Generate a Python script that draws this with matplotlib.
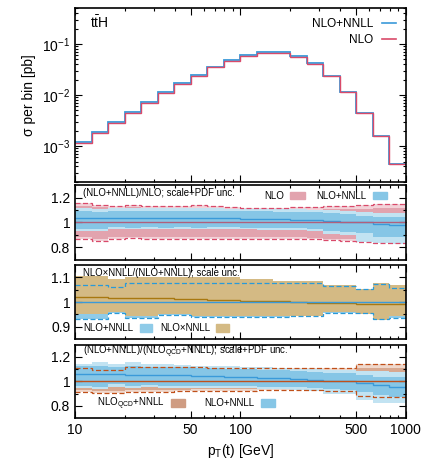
import numpy as np
import matplotlib
matplotlib.use('Agg')
import matplotlib.pyplot as plt
from matplotlib.patches import Patch
from matplotlib.lines import Line2D
from matplotlib.ticker import FixedLocator, FormatStrFormatter, NullFormatter, LogLocator

plt.rcParams['font.family'] = ['Liberation Sans', 'DejaVu Sans']
plt.rcParams['mathtext.fontset'] = 'custom'
plt.rcParams['mathtext.rm'] = 'Liberation Sans'
plt.rcParams['mathtext.it'] = 'Liberation Sans:italic'

# bin edges in pT(t) [GeV]
edges = [10, 12.6, 15.8, 20, 25.1, 31.6, 39.8, 50.1, 63.1, 79.4, 100,
         126, 158, 200, 251, 316, 398, 501, 631, 794, 1000]

# top panel: sigma per bin [pb]
xs_nnll = [1.2e-3, 1.9e-3, 3.0e-3, 4.6e-3, 7.2e-3, 1.16e-2, 1.72e-2, 2.5e-2, 3.6e-2, 4.8e-2,
           6.0e-2, 7.0e-2, 7.0e-2, 5.8e-2, 4.2e-2, 2.35e-2, 1.15e-2, 4.5e-3, 1.55e-3, 4.4e-4]
xs_nlo = [1.15e-3, 1.83e-3, 2.9e-3, 4.45e-3, 6.95e-3, 1.12e-2, 1.66e-2, 2.42e-2, 3.5e-2, 4.65e-2,
          5.82e-2, 6.8e-2, 6.82e-2, 5.68e-2, 4.14e-2, 2.33e-2, 1.14e-2, 4.5e-3, 1.56e-3, 4.5e-4]

# panel 2: (NLO+NNLL)/NLO
r2_c = [1.034, 1.034, 1.034, 1.033, 1.033, 1.033, 1.033, 1.032, 1.032, 1.031,
        1.03, 1.028, 1.025, 1.02, 1.015, 1.01, 1.005, 1.0, 0.99, 0.978]
r2_sc_lo = [0.947, 0.945, 0.96, 0.958, 0.96, 0.958, 0.96, 0.958, 0.96, 0.96,
            0.958, 0.955, 0.955, 0.952, 0.95, 0.93, 0.92, 0.91, 0.885, 0.88]
r2_sc_hi = [1.088, 1.085, 1.09, 1.09, 1.09, 1.09, 1.09, 1.09, 1.092, 1.09,
            1.09, 1.088, 1.085, 1.082, 1.08, 1.075, 1.07, 1.05, 1.045, 1.045]
r2_tot_lo = [0.932, 0.93, 0.945, 0.945, 0.947, 0.945, 0.947, 0.945, 0.947, 0.947,
             0.945, 0.94, 0.94, 0.935, 0.93, 0.905, 0.9, 0.84, 0.83, 0.825]
r2_tot_hi = [1.112, 1.11, 1.115, 1.115, 1.115, 1.115, 1.112, 1.112, 1.112, 1.11,
             1.11, 1.108, 1.105, 1.105, 1.1, 1.1, 1.095, 1.085, 1.075, 1.072]
nlo_tot_hi = [1.152, 1.14, 1.128, 1.14, 1.135, 1.133, 1.135, 1.138, 1.13, 1.12,
              1.115, 1.115, 1.118, 1.12, 1.122, 1.128, 1.128, 1.14, 1.146, 1.146]
nlo_tot_lo = [0.866, 0.853, 0.866, 0.87, 0.866, 0.866, 0.866, 0.866, 0.866, 0.868,
              0.868, 0.866, 0.866, 0.866, 0.862, 0.855, 0.852, 0.84, 0.832, 0.832]
nlo_sc_hi = [1.13, 1.12, 1.11, 1.12, 1.115, 1.113, 1.115, 1.118, 1.11, 1.1,
             1.095, 1.095, 1.098, 1.1, 1.1, 1.105, 1.105, 1.11, 1.112, 1.112]
nlo_sc_lo = [0.878, 0.866, 0.878, 0.882, 0.878, 0.878, 0.878, 0.878, 0.878, 0.88,
             0.88, 0.878, 0.878, 0.878, 0.875, 0.868, 0.865, 0.855, 0.848, 0.848]

# panel 3: NLOxNNLL/(NLO+NNLL), scale unc.
r3_c = [1.02, 1.019, 1.018, 1.017, 1.016, 1.015, 1.013, 1.012, 1.01, 1.008,
        1.006, 1.005, 1.003, 1.0, 0.998, 0.997, 0.995, 0.993, 0.992, 0.991]
r3_mult_hi = [1.108, 1.108, 1.093, 1.104, 1.104, 1.104, 1.1, 1.1, 1.1, 1.1,
              1.093, 1.093, 1.085, 1.085, 1.085, 1.07, 1.07, 1.054, 1.078, 1.069]
r3_mult_lo = [0.95, 0.95, 0.962, 0.945, 0.945, 0.952, 0.952, 0.945, 0.945, 0.945,
              0.945, 0.945, 0.945, 0.945, 0.945, 0.96, 0.96, 0.95, 0.928, 0.942]
r3_add_hi = [1.069, 1.069, 1.061, 1.078, 1.078, 1.078, 1.078, 1.078, 1.078, 1.078,
             1.079, 1.079, 1.079, 1.079, 1.079, 1.065, 1.065, 1.053, 1.073, 1.058]
r3_add_lo = [0.933, 0.933, 0.954, 0.936, 0.936, 0.948, 0.948, 0.94, 0.94, 0.94,
             0.94, 0.94, 0.94, 0.942, 0.942, 0.957, 0.957, 0.954, 0.93, 0.936]

# panel 4: (NLO+NNLL)/(NLO_QCD+NNLL)
r4_c = [1.062, 1.06, 1.058, 1.056, 1.054, 1.052, 1.05, 1.047, 1.044, 1.04,
        1.035, 1.03, 1.025, 1.018, 1.012, 1.006, 1.0, 0.985, 0.97, 0.958]
r4_sc_hi = [1.125, 1.13, 1.12, 1.125, 1.12, 1.12, 1.115, 1.112, 1.11, 1.105,
            1.1, 1.095, 1.09, 1.085, 1.08, 1.07, 1.065, 1.05, 1.04, 1.035]
r4_sc_lo = [0.96, 0.958, 0.975, 0.965, 0.968, 0.965, 0.965, 0.962, 0.962, 0.96,
            0.96, 0.958, 0.955, 0.95, 0.945, 0.935, 0.93, 0.91, 0.885, 0.875]
r4_tot_hi = [1.145, 1.16, 1.14, 1.155, 1.145, 1.14, 1.135, 1.13, 1.128, 1.125,
             1.12, 1.115, 1.11, 1.105, 1.1, 1.095, 1.09, 1.085, 1.083, 1.08]
r4_tot_lo = [0.944, 0.94, 0.955, 0.948, 0.95, 0.948, 0.948, 0.945, 0.945, 0.943,
             0.942, 0.94, 0.935, 0.93, 0.925, 0.9, 0.9, 0.85, 0.82, 0.82]
qcd_tot_hi = [1.111, 1.097, 1.097, 1.116, 1.116, 1.116, 1.114, 1.114, 1.112, 1.112,
              1.111, 1.111, 1.111, 1.111, 1.111, 1.111, 1.111, 1.142, 1.145, 1.145]
qcd_tot_lo = [0.917, 0.905, 0.905, 0.917, 0.917, 0.917, 0.918, 0.92, 0.92, 0.922,
              0.925, 0.928, 0.93, 0.93, 0.93, 0.923, 0.923, 0.88, 0.875, 0.875]
qcd_sc_hi = [1.09, 1.078, 1.078, 1.095, 1.095, 1.095, 1.094, 1.094, 1.092, 1.092,
             1.09, 1.09, 1.09, 1.09, 1.09, 1.09, 1.09, 1.11, 1.11, 1.11]
qcd_sc_lo = [0.932, 0.92, 0.92, 0.932, 0.932, 0.932, 0.933, 0.935, 0.935, 0.937,
             0.94, 0.942, 0.944, 0.944, 0.944, 0.938, 0.938, 0.895, 0.89, 0.89]

c_blue = '#3a9ad9'
c_red = '#d94a6a'
c_pink = '#e2a3ae'
c_pink_l = '#f2d2d8'
c_blue_m = '#86c6e6'
c_blue_l = '#c2e3f2'
c_gold = '#d4ba84'
c_gold_line = '#a87810'
c_brown = '#d8a890'
c_brown_l = '#efd8cc'
c_brown_line = '#c0501a'

fig = plt.figure(figsize=(4.32, 4.71), dpi=100)
L, W = 0.1736, 0.766
ax1 = fig.add_axes([L, 0.614, W, 0.368])
ax2 = fig.add_axes([L, 0.449, W, 0.158])
ax3 = fig.add_axes([L, 0.280, W, 0.157])
ax4 = fig.add_axes([L, 0.1125, W, 0.1555])

for ax in (ax1, ax2, ax3, ax4):
    ax.set_xscale('log')
    ax.set_xlim(10, 1000)
    ax.tick_params(which='both', direction='in', top=True, right=True, labelsize=10)
    ax.tick_params(which='major', length=5, width=0.8)
    ax.tick_params(which='minor', length=2.5, width=0.8)
    ax.xaxis.set_major_locator(FixedLocator([10, 50, 100, 500, 1000]))
    ax.xaxis.set_minor_locator(LogLocator(base=10, subs=np.arange(2, 10)))
    ax.xaxis.set_minor_formatter(NullFormatter())
    for s in ax.spines.values():
        s.set_linewidth(1.2)
    if ax is not ax4:
        ax.set_xticklabels([])

ax4.set_xticklabels(['10', '50', '100', '500', '1000'])

# top panel
ax1.set_yscale('log')
ax1.set_ylim(2e-4, 0.5)
ax1.stairs(xs_nnll, edges, baseline=None, color=c_blue, lw=1.3)
ax1.stairs(xs_nlo, edges, baseline=None, color=c_red, lw=1.0)
ax1.yaxis.set_minor_formatter(NullFormatter())
ax1.set_ylabel('σ per bin [pb]', fontsize=10)
ax1.text(0.045, 0.965, r'$\mathrm{t\bar{t}H}$', transform=ax1.transAxes, fontsize=10, va='top')
ax1.legend(handles=[Line2D([], [], color=c_blue, lw=1.2), Line2D([], [], color=c_red, lw=1.2)],
           labels=['NLO+NNLL', 'NLO'], loc='upper right', frameon=False, markerfirst=False,
           fontsize=8.5, handlelength=1.2, borderaxespad=0.4, labelspacing=0.35)

# panel 2
ax2.set_ylim(0.7, 1.3)
ax2.stairs(nlo_tot_hi, edges, baseline=nlo_tot_lo, fill=True, color=c_pink_l, lw=0)
ax2.stairs(nlo_sc_hi, edges, baseline=nlo_sc_lo, fill=True, color=c_pink, lw=0)
ax2.stairs(r2_tot_hi, edges, baseline=r2_tot_lo, fill=True, color=c_blue_l, lw=0)
ax2.stairs(r2_sc_hi, edges, baseline=r2_sc_lo, fill=True, color=c_blue_m, lw=0)
ax2.axhline(1.0, color='#b0607c', lw=1.0)
ax2.stairs(r2_c, edges, baseline=None, color=c_blue, lw=1.0)
ax2.stairs(nlo_tot_hi, edges, baseline=None, color=c_red, lw=0.9, ls=(0, (4, 2)))
ax2.stairs(nlo_tot_lo, edges, baseline=None, color=c_red, lw=0.9, ls=(0, (4, 2)))
ax2.yaxis.set_major_locator(FixedLocator([0.8, 1.0, 1.2]))
ax2.yaxis.set_minor_locator(FixedLocator([0.9, 1.1]))
ax2.yaxis.set_major_formatter(FormatStrFormatter('%g'))
ax2.text(0.025, 0.9, '(NLO+NNLL)/NLO; scale+PDF unc.', transform=ax2.transAxes, fontsize=6.9, va='center')
ax2.legend(handles=[Patch(color=c_pink), Patch(color=c_blue_m)], labels=['NLO', 'NLO+NNLL'],
           loc='upper right', bbox_to_anchor=(0.97, 1.04), ncol=2, frameon=False, markerfirst=False,
           fontsize=7, handlelength=1.5, handleheight=0.8, columnspacing=1.2, handletextpad=0.6)

# panel 3
ax3.set_ylim(0.85, 1.15)
ax3.stairs(r3_add_hi, edges, baseline=r3_add_lo, fill=True, color='#8fcbe8', lw=0)
ax3.stairs(r3_mult_hi, edges, baseline=r3_mult_lo, fill=True, color=c_gold, lw=0)
ax3.axhline(1.0, color=c_blue, lw=1.0)
ax3.stairs(r3_c, edges, baseline=None, color=c_gold_line, lw=1.0)
ax3.stairs(r3_add_hi, edges, baseline=None, color='#2a9ad8', lw=0.9, ls=(0, (4, 2)))
ax3.stairs(r3_add_lo, edges, baseline=None, color='#2a9ad8', lw=0.9, ls=(0, (4, 2)))
ax3.yaxis.set_major_locator(FixedLocator([0.9, 1.0, 1.1]))
ax3.yaxis.set_minor_locator(FixedLocator([0.95, 1.05]))
ax3.yaxis.set_major_formatter(FormatStrFormatter('%g'))
ax3.text(0.025, 0.9, 'NLO×NNLL/(NLO+NNLL); scale unc.', transform=ax3.transAxes, fontsize=6.9, va='center')
ax3.legend(handles=[Patch(color='#8fcbe8'), Patch(color=c_gold)], labels=['NLO+NNLL', 'NLO×NNLL'],
           loc='lower left', bbox_to_anchor=(0.0, -0.04), ncol=2, frameon=False, markerfirst=False,
           fontsize=7, handlelength=1.3, handleheight=0.8, columnspacing=0.8, handletextpad=0.6)

# panel 4
ax4.set_ylim(0.7, 1.3)
ax4.stairs(qcd_tot_hi, edges, baseline=qcd_tot_lo, fill=True, color=c_brown_l, lw=0)
ax4.stairs(qcd_sc_hi, edges, baseline=qcd_sc_lo, fill=True, color=c_brown, lw=0)
ax4.stairs(r4_tot_hi, edges, baseline=r4_tot_lo, fill=True, color=c_blue_l, lw=0)
ax4.stairs(r4_sc_hi, edges, baseline=r4_sc_lo, fill=True, color=c_blue_m, lw=0)
ax4.axhline(1.0, color=c_brown_line, lw=1.0)
ax4.stairs(r4_c, edges, baseline=None, color=c_blue, lw=1.0)
ax4.stairs(qcd_tot_hi, edges, baseline=None, color=c_brown_line, lw=0.9, ls=(0, (4, 2)))
ax4.stairs(qcd_tot_lo, edges, baseline=None, color=c_brown_line, lw=0.9, ls=(0, (4, 2)))
ax4.yaxis.set_major_locator(FixedLocator([0.8, 1.0, 1.2]))
ax4.yaxis.set_minor_locator(FixedLocator([0.9, 1.1]))
ax4.yaxis.set_major_formatter(FormatStrFormatter('%g'))
ax4.text(0.025, 0.9, r'(NLO+NNLL)/(NLO$_{\mathrm{QCD}}$+NNLL); scale+PDF unc.', transform=ax4.transAxes,
         fontsize=6.9, va='center')
ax4.legend(handles=[Patch(color='#cf9c82'), Patch(color=c_blue_m)],
           labels=[r'NLO$_{\mathrm{QCD}}$+NNLL', 'NLO+NNLL'],
           loc='lower left', bbox_to_anchor=(0.04, -0.04), ncol=2, frameon=False, markerfirst=False,
           fontsize=7, handlelength=1.5, handleheight=0.8, columnspacing=2.0, handletextpad=0.6)
ax4.set_xlabel(r'p$_{\mathrm{T}}$(t) [GeV]', fontsize=10)

fig.savefig('out.png', dpi=100)
